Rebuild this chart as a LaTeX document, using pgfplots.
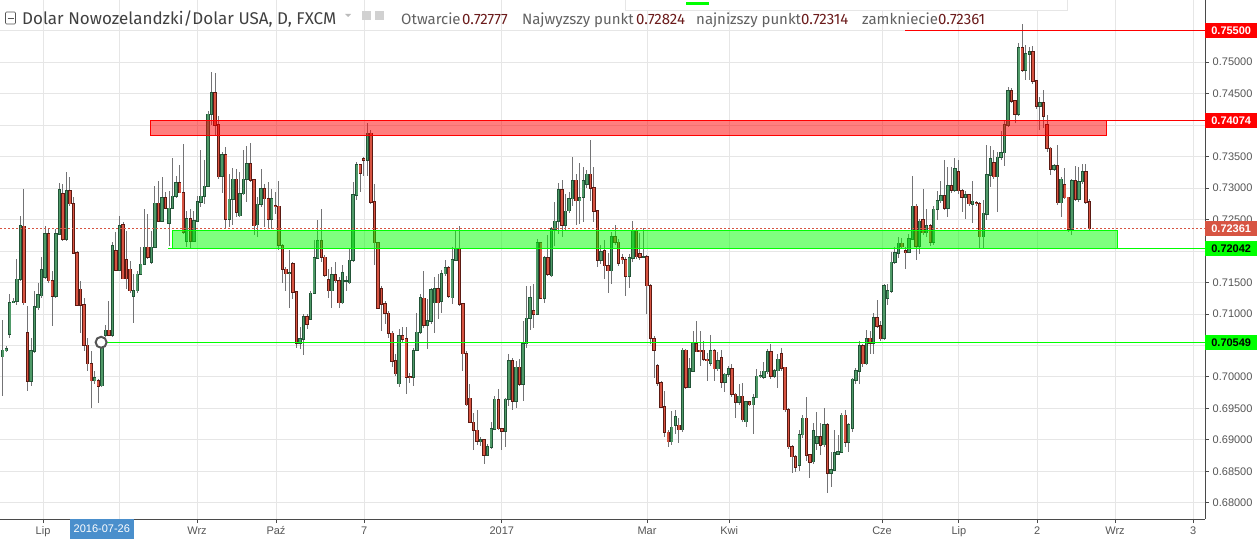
\documentclass[border=0pt]{standalone}
\usepackage{fontspec}
\setmainfont{Liberation Sans}
\newfontfamily\hdr{Fira Sans}
\usepackage{pgfplots}
\usepackage{pgfplotstable}
\pgfplotsset{compat=1.18}

\definecolor{upfill}{HTML}{4F9A68}
\definecolor{upedge}{HTML}{225437}
\definecolor{dnfill}{HTML}{D75442}
\definecolor{dnedge}{HTML}{5B1A13}
\definecolor{wick}{HTML}{737375}
\definecolor{gridc}{HTML}{E6E6E6}
\definecolor{axisc}{HTML}{4A4A4A}
\definecolor{labc}{HTML}{555555}
\definecolor{lvlgreen}{HTML}{00FF00}
\definecolor{lvlred}{HTML}{FF0000}
\definecolor{lastc}{HTML}{D75442}
\definecolor{valc}{HTML}{6B1B1B}
\definecolor{datebox}{HTML}{4A8FCC}

% daily NZD/USD candles, i = bar index
\pgfplotstableread{
i o h l c
0 0.7032 0.7091 0.6969 0.7042
1 0.7042 0.7049 0.7040 0.7044
2 0.7068 0.7131 0.7062 0.7118
3 0.7119 0.7125 0.7117 0.7120
4 0.7120 0.7187 0.7115 0.7155
5 0.7155 0.7255 0.7153 0.7240
6 0.7239 0.7299 0.7115 0.7118
7 0.7070 0.7113 0.6977 0.6993
8 0.6993 0.7062 0.6985 0.7041
9 0.7041 0.7137 0.7038 0.7111
10 0.7110 0.7150 0.7107 0.7130
11 0.7129 0.7190 0.7126 0.7170
12 0.7158 0.7240 0.7155 0.7227
13 0.7227 0.7235 0.7150 0.7153
14 0.7153 0.7168 0.7081 0.7128
15 0.7128 0.7235 0.7126 0.7227
16 0.7227 0.7308 0.7226 0.7297
17 0.7291 0.7307 0.7216 0.7219
18 0.7219 0.7325 0.7216 0.7295
19 0.7296 0.7317 0.7272 0.7275
20 0.7275 0.7286 0.7195 0.7197
21 0.7197 0.7200 0.7113 0.7114
22 0.7139 0.7153 0.7070 0.7114
23 0.7114 0.7126 0.7041 0.7050
24 0.7050 0.7062 0.7009 0.7021
25 0.7021 0.7041 0.6950 0.6994
26 0.6994 0.7009 0.6988 0.6998
27 0.6994 0.6996 0.6958 0.6985
28 0.6986 0.7062 0.6984 0.7052
29 0.7066 0.7083 0.7064 0.7074
30 0.7074 0.7121 0.7065 0.7066
31 0.7066 0.7215 0.7064 0.7208
32 0.7200 0.7230 0.7168 0.7170
33 0.7170 0.7256 0.7168 0.7240
34 0.7242 0.7246 0.7155 0.7156
35 0.7186 0.7232 0.7139 0.7156
36 0.7171 0.7184 0.7134 0.7137
37 0.7128 0.7163 0.7086 0.7137
38 0.7137 0.7168 0.7134 0.7163
39 0.7163 0.7206 0.7162 0.7179
40 0.7179 0.7267 0.7177 0.7206
41 0.7206 0.7259 0.7187 0.7190
42 0.7182 0.7232 0.7179 0.7206
43 0.7206 0.7304 0.7205 0.7276
44 0.7276 0.7312 0.7246 0.7247
45 0.7247 0.7317 0.7246 0.7284
46 0.7284 0.7293 0.7267 0.7268
47 0.7244 0.7296 0.7208 0.7268
48 0.7268 0.7347 0.7267 0.7287
49 0.7287 0.7320 0.7285 0.7308
50 0.7308 0.7336 0.7292 0.7293
51 0.7293 0.7370 0.7227 0.7230
52 0.7216 0.7264 0.7206 0.7251
53 0.7251 0.7267 0.7203 0.7216
54 0.7216 0.7264 0.7214 0.7248
55 0.7248 0.7288 0.7246 0.7278
56 0.7278 0.7361 0.7270 0.7287
57 0.7287 0.7344 0.7275 0.7303
58 0.7303 0.7422 0.7302 0.7417
59 0.7417 0.7485 0.7400 0.7451
60 0.7451 0.7483 0.7384 0.7400
61 0.7400 0.7414 0.7315 0.7318
62 0.7319 0.7358 0.7292 0.7353
63 0.7353 0.7365 0.7235 0.7251
64 0.7251 0.7323 0.7238 0.7282
65 0.7282 0.7332 0.7241 0.7314
66 0.7314 0.7331 0.7254 0.7262
67 0.7256 0.7326 0.7254 0.7291
68 0.7291 0.7360 0.7289 0.7314
69 0.7314 0.7367 0.7278 0.7339
70 0.7339 0.7372 0.7310 0.7313
71 0.7313 0.7315 0.7225 0.7240
72 0.7242 0.7286 0.7222 0.7274
73 0.7274 0.7331 0.7270 0.7299
74 0.7299 0.7307 0.7238 0.7283
75 0.7283 0.7310 0.7235 0.7251
76 0.7251 0.7299 0.7235 0.7283
77 0.7272 0.7294 0.7259 0.7271
78 0.7271 0.7311 0.7201 0.7209
79 0.7208 0.7211 0.7149 0.7171
80 0.7171 0.7174 0.7137 0.7164
81 0.7164 0.7201 0.7110 0.7165
82 0.7179 0.7182 0.7124 0.7135
83 0.7135 0.7137 0.7046 0.7054
84 0.7054 0.7080 0.7044 0.7060
85 0.7060 0.7100 0.7035 0.7095
86 0.7095 0.7100 0.7076 0.7084
87 0.7092 0.7137 0.7090 0.7133
88 0.7133 0.7218 0.7131 0.7189
89 0.7189 0.7249 0.7187 0.7216
90 0.7216 0.7266 0.7182 0.7190
91 0.7190 0.7193 0.7158 0.7162
92 0.7154 0.7171 0.7125 0.7137
93 0.7137 0.7174 0.7110 0.7162
94 0.7162 0.7182 0.7149 0.7153
95 0.7153 0.7158 0.7110 0.7118
96 0.7118 0.7177 0.7116 0.7165
97 0.7152 0.7161 0.7137 0.7152
98 0.7150 0.7203 0.7147 0.7185
99 0.7185 0.7310 0.7182 0.7289
100 0.7289 0.7342 0.7281 0.7337
101 0.7337 0.7339 0.7294 0.7324
102 0.7347 0.7350 0.7320 0.7344
103 0.7344 0.7404 0.7319 0.7387
104 0.7387 0.7392 0.7275 0.7278
105 0.7278 0.7307 0.7178 0.7213
106 0.7213 0.7214 0.7108 0.7109
107 0.7140 0.7145 0.7073 0.7116
108 0.7116 0.7120 0.7084 0.7101
109 0.7101 0.7105 0.7062 0.7069
110 0.7069 0.7073 0.7015 0.7025
111 0.7025 0.7036 0.7001 0.7005
112 0.6989 0.7076 0.6984 0.7065
113 0.7065 0.7079 0.7055 0.7060
114 0.7060 0.7079 0.6972 0.7000
115 0.7000 0.7006 0.6990 0.6999
116 0.7000 0.7046 0.6985 0.7041
117 0.7043 0.7102 0.7041 0.7071
118 0.7071 0.7132 0.7068 0.7125
119 0.7125 0.7169 0.7078 0.7082
120 0.7082 0.7124 0.7044 0.7089
121 0.7089 0.7142 0.7084 0.7138
122 0.7118 0.7158 0.7070 0.7140
123 0.7140 0.7163 0.7092 0.7118
124 0.7120 0.7169 0.7102 0.7164
125 0.7164 0.7185 0.7161 0.7173
126 0.7173 0.7177 0.7125 0.7128
127 0.7126 0.7206 0.7116 0.7186
128 0.7186 0.7233 0.7185 0.7203
129 0.7203 0.7240 0.7113 0.7116
130 0.7116 0.7118 0.7010 0.7037
131 0.7037 0.7041 0.6953 0.6956
132 0.6966 0.6988 0.6927 0.6928
133 0.6928 0.6943 0.6883 0.6915
134 0.6915 0.6948 0.6892 0.6898
135 0.6897 0.6905 0.6890 0.6900
136 0.6900 0.6902 0.6861 0.6876
137 0.6876 0.6893 0.6874 0.6889
138 0.6888 0.6929 0.6886 0.6918
139 0.6917 0.6969 0.6916 0.6964
140 0.6964 0.6980 0.6916 0.6918
141 0.6917 0.6918 0.6884 0.6914
142 0.6914 0.6966 0.6889 0.6964
143 0.6964 0.7036 0.6953 0.7025
144 0.7025 0.7030 0.6948 0.6962
145 0.6962 0.7025 0.6950 0.7015
146 0.7015 0.7028 0.6985 0.6988
147 0.6988 0.7089 0.6961 0.7053
148 0.7053 0.7145 0.7046 0.7093
149 0.7093 0.7145 0.7075 0.7126
150 0.7105 0.7147 0.7078 0.7100
151 0.7100 0.7219 0.7099 0.7213
152 0.7213 0.7214 0.7123 0.7125
153 0.7125 0.7192 0.7118 0.7189
154 0.7189 0.7226 0.7161 0.7163
155 0.7161 0.7238 0.7159 0.7235
156 0.7235 0.7278 0.7208 0.7247
157 0.7247 0.7308 0.7227 0.7297
158 0.7297 0.7312 0.7223 0.7241
159 0.7241 0.7290 0.7233 0.7263
160 0.7264 0.7294 0.7260 0.7283
161 0.7283 0.7350 0.7272 0.7312
162 0.7312 0.7323 0.7241 0.7280
163 0.7280 0.7339 0.7243 0.7285
164 0.7285 0.7333 0.7246 0.7311
165 0.7306 0.7329 0.7300 0.7322
166 0.7322 0.7376 0.7280 0.7300
167 0.7300 0.7334 0.7246 0.7263
168 0.7264 0.7265 0.7174 0.7186
169 0.7186 0.7210 0.7180 0.7199
170 0.7200 0.7218 0.7156 0.7177
171 0.7177 0.7197 0.7134 0.7169
172 0.7169 0.7230 0.7147 0.7223
173 0.7223 0.7242 0.7210 0.7214
174 0.7214 0.7219 0.7176 0.7181
175 0.7189 0.7195 0.7180 0.7186
176 0.7186 0.7190 0.7129 0.7160
177 0.7160 0.7195 0.7141 0.7189
178 0.7189 0.7248 0.7182 0.7231
179 0.7231 0.7237 0.7187 0.7191
180 0.7195 0.7228 0.7186 0.7190
181 0.7191 0.7237 0.7189 0.7191
182 0.7191 0.7193 0.7100 0.7145
183 0.7145 0.7147 0.7052 0.7061
184 0.7061 0.7065 0.6998 0.7042
185 0.7018 0.7020 0.6985 0.6990
186 0.6990 0.6993 0.6950 0.6952
187 0.6952 0.6977 0.6905 0.6912
188 0.6912 0.6916 0.6889 0.6897
189 0.6897 0.6946 0.6892 0.6920
190 0.6923 0.6948 0.6910 0.6936
191 0.6923 0.6934 0.6895 0.6916
192 0.6916 0.7046 0.6913 0.7042
193 0.7042 0.7044 0.6980 0.6984
194 0.6984 0.7030 0.6982 0.7013
195 0.7009 0.7073 0.7008 0.7053
196 0.7053 0.7089 0.7039 0.7040
197 0.7042 0.7073 0.7017 0.7041
198 0.7042 0.7057 0.7025 0.7028
199 0.7028 0.7038 0.6994 0.7027
200 0.7022 0.7066 0.7018 0.7041
201 0.7041 0.7044 0.6993 0.7013
202 0.7013 0.7040 0.7010 0.7025
203 0.7030 0.7042 0.6983 0.6992
204 0.6992 0.7006 0.6976 0.7004
205 0.7004 0.7017 0.7000 0.7013
206 0.7013 0.7021 0.6968 0.6972
207 0.6972 0.6974 0.6934 0.6960
208 0.6960 0.6988 0.6955 0.6969
209 0.6969 0.6990 0.6928 0.6932
210 0.6929 0.6962 0.6921 0.6960
211 0.6960 0.6962 0.6954 0.6956
212 0.6956 0.6972 0.6909 0.6967
213 0.6967 0.7013 0.6966 0.7001
214 0.7001 0.7009 0.6998 0.7002
215 0.7000 0.7024 0.6996 0.7009
216 0.7008 0.7044 0.7005 0.7040
217 0.7040 0.7053 0.6996 0.7001
218 0.7001 0.7012 0.6998 0.7010
219 0.7010 0.7036 0.6982 0.7028
220 0.7036 0.7046 0.7010 0.7014
221 0.7015 0.7016 0.6945 0.6948
222 0.6948 0.6950 0.6885 0.6889
223 0.6889 0.6892 0.6847 0.6873
224 0.6873 0.6876 0.6849 0.6857
225 0.6860 0.6916 0.6851 0.6908
226 0.6908 0.6940 0.6903 0.6934
227 0.6934 0.6968 0.6867 0.6876
228 0.6876 0.6878 0.6839 0.6865
229 0.6865 0.6927 0.6862 0.6914
230 0.6895 0.6945 0.6884 0.6905
231 0.6905 0.6927 0.6876 0.6892
232 0.6892 0.6951 0.6889 0.6924
233 0.6924 0.6927 0.6816 0.6847
234 0.6847 0.6881 0.6825 0.6852
235 0.6852 0.6916 0.6850 0.6879
236 0.6877 0.6908 0.6876 0.6881
237 0.6880 0.6943 0.6879 0.6939
238 0.6939 0.6948 0.6889 0.6896
239 0.6896 0.6927 0.6881 0.6924
240 0.6918 0.6998 0.6913 0.6996
241 0.6995 0.7014 0.6988 0.7009
242 0.7009 0.7057 0.6989 0.7049
243 0.7049 0.7052 0.7016 0.7021
244 0.7021 0.7074 0.7019 0.7061
245 0.7061 0.7073 0.7036 0.7054
246 0.7054 0.7102 0.7036 0.7094
247 0.7094 0.7122 0.7077 0.7081
248 0.7081 0.7089 0.7057 0.7061
249 0.7061 0.7147 0.7059 0.7145
250 0.7125 0.7148 0.7114 0.7137
251 0.7136 0.7198 0.7133 0.7182
252 0.7182 0.7206 0.7179 0.7197
253 0.7197 0.7223 0.7189 0.7212
254 0.7212 0.7220 0.7203 0.7207
255 0.7200 0.7206 0.7171 0.7198
256 0.7198 0.7227 0.7196 0.7219
257 0.7219 0.7320 0.7217 0.7271
258 0.7271 0.7274 0.7186 0.7208
259 0.7208 0.7251 0.7195 0.7247
260 0.7250 0.7299 0.7225 0.7229
261 0.7229 0.7267 0.7222 0.7240
262 0.7240 0.7243 0.7208 0.7214
263 0.7214 0.7272 0.7210 0.7266
264 0.7266 0.7296 0.7250 0.7280
265 0.7280 0.7311 0.7277 0.7288
266 0.7288 0.7345 0.7265 0.7268
267 0.7268 0.7334 0.7254 0.7303
268 0.7303 0.7334 0.7293 0.7297
269 0.7297 0.7347 0.7293 0.7331
270 0.7326 0.7344 0.7290 0.7296
271 0.7296 0.7299 0.7262 0.7286
272 0.7286 0.7296 0.7251 0.7289
273 0.7289 0.7291 0.7272 0.7275
274 0.7275 0.7311 0.7244 0.7279
275 0.7277 0.7280 0.7272 0.7275
276 0.7275 0.7278 0.7203 0.7223
277 0.7223 0.7281 0.7204 0.7260
278 0.7259 0.7368 0.7249 0.7321
279 0.7321 0.7367 0.7301 0.7346
280 0.7340 0.7360 0.7315 0.7318
281 0.7318 0.7358 0.7262 0.7349
282 0.7349 0.7390 0.7345 0.7356
283 0.7356 0.7406 0.7335 0.7400
284 0.7400 0.7461 0.7397 0.7455
285 0.7455 0.7459 0.7435 0.7438
286 0.7439 0.7440 0.7403 0.7417
287 0.7417 0.7531 0.7415 0.7523
288 0.7523 0.7560 0.7484 0.7487
289 0.7487 0.7527 0.7472 0.7513
290 0.7513 0.7524 0.7471 0.7516
291 0.7516 0.7525 0.7465 0.7470
292 0.7470 0.7472 0.7425 0.7430
293 0.7430 0.7445 0.7392 0.7435
294 0.7435 0.7456 0.7395 0.7414
295 0.7400 0.7416 0.7358 0.7363
296 0.7363 0.7366 0.7321 0.7330
297 0.7330 0.7339 0.7327 0.7335
298 0.7335 0.7368 0.7273 0.7277
299 0.7277 0.7318 0.7254 0.7314
300 0.7305 0.7332 0.7282 0.7285
301 0.7285 0.7286 0.7230 0.7235
302 0.7235 0.7315 0.7225 0.7312
303 0.7312 0.7335 0.7279 0.7282
304 0.7282 0.7334 0.7278 0.7310
305 0.7310 0.7338 0.7307 0.7326
306 0.7326 0.7338 0.7275 0.7278
307 0.72777 0.72824 0.72314 0.72361
}\candles

\begin{document}
\begin{tikzpicture}
\path[use as bounding box] (0pt,-20pt) rectangle (1257pt,519pt);
\begin{axis}[
  at={(0pt,0pt)}, anchor=south west,
  scale only axis, width=1205pt, height=519pt,
  xmin=-0.763, xmax=339.63, ymin=0.67741, ymax=0.75988,
  axis x line*=bottom, axis y line*=right,
  axis line style={axisc, line width=1pt, -},
  tick align=outside, major tick length=4pt,
  tick style={axisc, line width=0.8pt},
  xmajorgrids, ymajorgrids,
  grid style={gridc, line width=0.8pt},
  xtick={11.4,54.9,77.2,102.1,141.0,182.0,205.2,248.4,270.1,292.2,314.2,336.3},
  xticklabels={Lip,Wrz,Paź,7,2017,Mar,Kwi,Cze,Lip,2,Wrz,3},
  extra x ticks={33.1},
  extra x tick labels={},
  ytick={0.680,0.685,0.690,0.695,0.700,0.705,0.710,0.715,0.720,0.725,0.730,0.735,0.740,0.745,0.750,0.755},
  yticklabels={0.68000,0.68500,0.69000,0.69500,0.70000,,0.71000,0.71500,,0.72500,0.73000,0.73500,,0.74500,0.75000,},
  yticklabel style={font=\fontsize{11}{13}\selectfont, text=labc, anchor=west, inner xsep=0pt, xshift=3.5pt},
  xticklabel style={font=\fontsize{11}{13}\selectfont, text=labc},
  clip=false,
  candle/.style={only marks, mark=*, mark size=0pt, mark options={opacity=0},
    error bars/.cd, y dir=both, y explicit, error mark=none},
]
% wicks
\addplot[candle, error bar style={wick, line width=1pt}]
  table[x=i, y expr={(\thisrow{h}+\thisrow{l})/2}, y error expr={(\thisrow{h}-\thisrow{l})/2}] {\candles};
% rising bodies
\addplot[unbounded coords=discard, candle, error bar style={upedge, line width=3.4pt}]
  table[x=i, y expr={\thisrow{c}>=\thisrow{o} ? (\thisrow{o}+\thisrow{c})/2 : nan}, y error expr={abs(\thisrow{c}-\thisrow{o})/2+0.00011}] {\candles};
\addplot[unbounded coords=discard, candle, error bar style={upfill, line width=1.6pt}]
  table[x=i, y expr={\thisrow{c}>=\thisrow{o} ? (\thisrow{o}+\thisrow{c})/2 : nan}, y error expr={abs(\thisrow{c}-\thisrow{o})/2}] {\candles};
% falling bodies
\addplot[unbounded coords=discard, candle, error bar style={dnedge, line width=3.4pt}]
  table[x=i, y expr={\thisrow{c}<\thisrow{o} ? (\thisrow{o}+\thisrow{c})/2 : nan}, y error expr={abs(\thisrow{c}-\thisrow{o})/2+0.00011}] {\candles};
\addplot[unbounded coords=discard, candle, error bar style={dnfill, line width=1.6pt}]
  table[x=i, y expr={\thisrow{c}<\thisrow{o} ? (\thisrow{o}+\thisrow{c})/2 : nan}, y error expr={abs(\thisrow{c}-\thisrow{o})/2}] {\candles};

% zones and levels
\draw[lvlred, line width=0.8pt, fill=lvlred, fill opacity=0.5] (axis cs:41.6,0.74074) rectangle (axis cs:311.9,0.7384);
\draw[lvlgreen, line width=0.8pt, fill=lvlgreen, fill opacity=0.5] (axis cs:47.8,0.7232) rectangle (axis cs:315.0,0.72042);
\draw[lvlred, line width=1pt] (axis cs:254.9,0.755) -- (axis cs:339.63,0.755);
\draw[lvlred, line width=1pt] (axis cs:311.9,0.74074) -- (axis cs:339.63,0.74074);
\draw[lvlgreen, line width=1.3pt] (axis cs:46.7,0.72042) -- (axis cs:339.63,0.72042);
\draw[lvlgreen, line width=1pt] (axis cs:27.8,0.70549) -- (axis cs:339.63,0.70549);
\draw[lastc, line width=0.8pt, dash pattern=on 2pt off 2pt] (axis cs:-0.763,0.72361) -- (axis cs:339.63,0.72361);
\draw[labc, line width=2pt, fill=white] (axis cs:27.8,0.70549) circle[radius=5.5pt];

\coordinate (q1) at (axis cs:339.63,0.755);
\coordinate (q2) at (axis cs:339.63,0.74074);
\coordinate (q3) at (axis cs:339.63,0.72361);
\coordinate (q4) at (axis cs:339.63,0.72042);
\coordinate (q5) at (axis cs:339.63,0.70549);
\coordinate (qd) at (axis cs:28.0,0.67741);
\end{axis}

% price boxes on the right scale
\tikzset{pbox/.style={anchor=west, minimum width=52pt, minimum height=15pt, inner sep=0pt,
  font=\bfseries\fontsize{11}{13}\selectfont}}
\node[pbox, fill=lvlred, text=white] at (q1) {0.75500};
\node[pbox, fill=lvlred, text=white] at (q2) {0.74074};
\node[pbox, fill=lastc, text=white] at (q3) {0.72361};
\node[pbox, fill=lvlgreen, text=black] at (q4) {0.72042};
\node[pbox, fill=lvlgreen, text=black] at (q5) {0.70549};
\node[anchor=north, fill=datebox, text=white, minimum width=64pt, minimum height=20pt, inner sep=0pt,
  font=\fontsize{11}{13}\selectfont] at (qd) {2016-07-26};

% header
\fill[white] (625pt,508pt) rectangle (1067pt,519pt);
\draw[gridc, line width=0.8pt] (625pt,519pt) -- (625pt,508.5pt) -- (1067pt,508.5pt) -- (1067pt,519pt);
\fill[lvlgreen] (686pt,514pt) rectangle (709pt,517pt);
\draw[labc, line width=0.7pt, rounded corners=1pt] (5.5pt,495pt) rectangle (15.5pt,507pt);
\draw[labc, line width=0.7pt] (7.5pt,501pt) -- (13.5pt,501pt);
\fill[labc!40] (345pt,505pt) -- (351pt,505pt) -- (348pt,502pt) -- cycle;
\fill[black!18] (362pt,499pt) rectangle (371pt,508pt);
\fill[black!18] (375pt,499pt) rectangle (384pt,508pt);
\node[anchor=base west, inner sep=0pt, text=black!75, font=\hdr\fontsize{17}{19}\selectfont] at (22pt,494pt) {Dolar Nowozelandzki/Dolar USA, D, FXCM};
\tikzset{hk/.style={anchor=base west, inner sep=0pt, text=black!62, font=\hdr\fontsize{15}{18}\selectfont},
  hv/.style={anchor=base west, inner sep=0pt, text=valc, font=\hdr\fontsize{15}{18}\selectfont}}
\node[hk] at (401pt,494pt) {Otwarcie};
\node[hv] at (462pt,494pt) {0.72777};
\node[hk] at (522pt,494pt) {Najwyzszy punkt};
\node[hv] at (636pt,494pt) {0.72824};
\node[hk] at (696pt,494pt) {najnizszy punkt};
\node[hv] at (801pt,494pt) {0.72314};
\node[hk] at (862pt,494pt) {zamkniecie};
\node[hv] at (938pt,494pt) {0.72361};
\end{tikzpicture}
\end{document}
